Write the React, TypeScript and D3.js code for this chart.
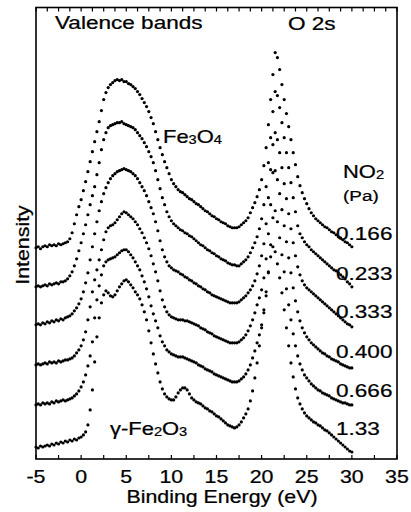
import React from "react";
import * as d3 from "d3";

// Binding energy grid (eV)
const ENERGY = [-5,-4.75,-4.5,-4.25,-4,-3.75,-3.5,-3.25,-3,-2.75,-2.5,-2.25,-2,-1.75,-1.5,-1.25,-1,-0.75,-0.5,-0.25,0,0.25,0.5,0.75,1,1.25,1.5,1.75,2,2.25,2.5,2.75,3,3.25,3.5,3.75,4,4.25,4.5,4.75,5,5.25,5.5,5.75,6,6.25,6.5,6.75,7,7.25,7.5,7.75,8,8.25,8.5,8.75,9,9.25,9.5,9.75,10,10.25,10.5,10.75,11,11.25,11.5,11.75,12,12.25,12.5,12.75,13,13.25,13.5,13.75,14,14.25,14.5,14.75,15,15.25,15.5,15.75,16,16.25,16.5,16.75,17,17.25,17.5,17.75,18,18.25,18.5,18.75,19,19.25,19.5,19.75,20,20.25,20.5,20.75,21,21.25,21.5,21.75,22,22.25,22.5,22.75,23,23.25,23.5,23.75,24,24.25,24.5,24.75,25,25.25,25.5,25.75,26,26.25,26.5,26.75,27,27.25,27.5,27.75,28,28.25,28.5,28.75,29,29.25,29.5,29.75,30];

// Intensity (arb. units, vertically offset spectra) for each NO2 pressure
const I_0166 = [211,212,210,212,213,212,214,213,214,213,215,214,215,216,217,
220,226,235,244,252,259,268,277,287,297,307,317,327,337,348,359,366,371,
374,376,378,379,378,379,377,377,
375,374,372,370,367,364,360,356,352,347,341,335,327,319,311,304,297,291,285,279,
275,272,269,267,266,264,262,260,259,257,255,254,252,250,248,247,245,243,242,240,
239,237,236,235,233,232,231,231,231,232,234,236,238,241,246,251,256,262,269,279,
293,311,334,359,384,406,401,389,374,359,345,332,319,306,294,282,273,266,260,255,
250,246,243,240,238,236,234,232,231,229,227,226,224,222,221,219,217,216,214,212];

const I_0233 = [172,173,172,173,174,173,175,174,175,176,175,177,177,178,180,
183,187,193,200,208,216,225,234,244,254,263,272,284,296,309,319,326,331,
333,334,335,336,336,337,335,334,
333,332,331,329,326,323,320,316,312,307,302,296,288,279,270,261,254,247,242,238,
235,233,231,229,228,226,225,223,222,220,218,216,214,213,211,209,208,206,205,203,
202,200,199,198,196,195,194,194,193,193,195,197,199,202,206,211,216,222,230,240,
254,272,296,321,347,367,363,351,336,321,306,291,276,261,247,233,225,221,217,214,
212,209,207,205,203,201,199,197,195,193,191,189,188,186,184,182,180,177,175,172];

const I_0333 = [134,135,134,136,135,137,136,138,137,139,138,140,139,141,142,
143,145,148,151,155,160,167,176,186,199,212,225,237,248,257,265,271,276,
280,283,285,287,288,289,290,289,
288,287,285,283,280,276,272,268,263,257,251,245,237,228,218,209,202,197,193,191,
189,188,187,185,184,182,181,179,178,176,175,173,172,170,169,167,166,164,163,162,
161,160,159,158,157,156,156,156,156,157,159,161,163,166,169,173,178,185,193,203,
215,235,261,289,314,326,319,306,291,275,260,245,230,216,203,192,184,178,174,171,
169,167,165,163,161,159,157,155,153,151,149,147,145,143,141,139,137,135,134,132];

const I_0400 = [94,95,94,95,96,95,97,96,97,96,98,97,98,99,99,
100,101,103,106,109,113,119,127,139,152,167,179,189,199,209,219,227,231,
233,234,236,239,242,245,247,246,
244,242,240,237,234,230,226,221,216,210,203,195,187,178,168,159,152,147,144,142,
141,140,139,139,139,138,138,137,136,135,134,133,131,130,129,127,126,125,123,122,
121,120,119,118,117,116,116,116,116,117,119,121,124,128,133,139,146,154,161,169,
181,200,225,254,286,288,279,265,249,233,217,201,186,171,158,147,138,131,126,122,
119,116,114,112,110,108,106,105,103,102,100,99,98,97,95,94,93,92,91,91];

const I_0666 = [54,55,54,56,55,56,55,57,56,58,57,58,59,58,59,
60,61,63,65,68,72,77,84,93,103,117,141,159,173,184,193,197,199,
200,201,202,204,206,208,209,209,
207,204,201,197,193,189,183,177,170,162,153,145,138,131,123,117,113,109,107,105,
104,103,102,102,102,101,100,99,98,97,96,94,93,92,90,89,88,87,85,84,
83,82,81,80,79,78,77,77,77,78,80,82,85,89,94,101,108,116,124,134,
146,163,187,214,241,248,237,221,204,187,170,154,139,125,113,103,95,89,84,81,
78,75,73,71,69,68,66,65,64,63,61,60,59,58,57,56,56,55,54,54];

const I_133 = [12,11,13,12,13,14,13,15,14,16,15,17,16,18,17,
19,18,20,19,21,22,24,27,34,49,69,97,122,141,156,164,168,166,
163,162,164,168,172,175,178,179,
177,174,171,167,164,160,154,147,139,128,116,105,95,86,77,70,65,62,60,59,
59,62,66,69,71,71,69,65,61,59,57,56,55,53,51,50,48,47,45,43,
42,40,38,36,34,33,32,31,32,34,37,41,45,50,58,68,81,96,113,131,
149,167,186,202,212,207,195,181,166,149,131,113,96,82,70,61,55,50,46,43,
41,39,37,36,34,33,31,29,28,26,24,22,20,18,16,14,12,10,8,7];

const SERIES = [I_0166, I_0233, I_0333, I_0400, I_0666, I_133];
const PRESSURE_LABELS = ["0.166", "0.233", "0.333", "0.400", "0.666", "1.33"];
const X_TICKS = [-5, 0, 5, 10, 15, 20, 25, 30, 35];
const X_MINOR_BOTTOM = [-2.5, 2.5, 7.5, 12.5, 17.5, 22.5, 27.5, 32.5];
const X_MINOR_TOP = [-3.75, -2.5, -1.25, 1.25, 2.5, 3.75, 6.25, 7.5, 8.75, 11.25, 12.5, 13.75, 16.25, 17.5, 18.75, 21.25, 22.5, 23.75, 26.25, 27.5, 28.75, 31.25, 32.5, 33.75];

const FONT = "'Liberation Sans', Arial, Helvetica, sans-serif";
const SX = 1.22;

function T(props: any) {
  const { x, y, size, anchor, rotate, children } = props;
  const tr = `translate(${x},${y})` + (rotate ? ` rotate(${rotate})` : "") + ` scale(${SX},1)`;
  return (
    <text transform={tr} fontSize={size} textAnchor={anchor || "start"} fontFamily={FONT} fill="#000"
      stroke="#000" strokeWidth={0.25}>
      {children}
    </text>
  );
}

export default function App() {
  const W = 411, H = 512;
  const left = 36, right = 397, top = 7.5, bottom = 459;
  const x = d3.scaleLinear().domain([-5, 35]).range([left, right]);
  const y = d3.scaleLinear().domain([0, 451]).range([bottom, top]);

  const labelY = [240, 280, 318, 358, 397, 435];

  return (
    <svg width={W} height={H} style={{ position: "absolute", left: 0, top: 0, background: "#fff" }}>
      <rect x={0} y={0} width={W} height={H} fill="#fff" />
      {/* spectra */}
      {SERIES.map((vals, si) => (
        <g key={si}>
          {vals.map((v, i) =>
            i < ENERGY.length ? (
              <circle key={i} cx={x(ENERGY[i])} cy={y(v)} r={1.6} fill="#000" />
            ) : null
          )}
        </g>
      ))}
      {/* frame */}
      <rect x={left} y={top} width={right - left} height={bottom - top} fill="none" stroke="#000" strokeWidth={1.6} />
      {/* bottom ticks */}
      {X_TICKS.concat(X_MINOR_BOTTOM).map((t, i) => (
        <line key={"b" + i} x1={x(t)} x2={x(t)} y1={bottom} y2={bottom - 4} stroke="#000" strokeWidth={1.2} />
      ))}
      {/* top ticks */}
      {X_TICKS.concat(X_MINOR_TOP).map((t, i) => (
        <line key={"t" + i} x1={x(t)} x2={x(t)} y1={top} y2={top + 4} stroke="#000" strokeWidth={1.2} />
      ))}
      {/* tick labels */}
      {X_TICKS.map((t) => (
        <T key={"l" + t} x={x(t)} y={483} size={17.5} anchor="middle">{String(t)}</T>
      ))}
      <T x={222} y={503} size={17.5} anchor="middle">Binding Energy (eV)</T>
      <T x={29} y={245} size={17.5} anchor="middle" rotate={-90}>Intensity</T>

      <T x={55} y={29} size={18.5}>Valence bands</T>
      <T x={288} y={30} size={18.5}>O 2s</T>
      <T x={163} y={143} size={18}>
        Fe<tspan fontSize={12} dy={1}>3</tspan><tspan dy={-1}>O</tspan><tspan fontSize={12} dy={1}>4</tspan>
      </T>
      <T x={110} y={435} size={18}>
        γ-Fe<tspan fontSize={12} dy={1}>2</tspan><tspan dy={-1}>O</tspan><tspan fontSize={12} dy={1}>3</tspan>
      </T>
      <T x={343} y={178} size={18}>
        NO<tspan fontSize={12} dy={1}>2</tspan>
      </T>
      <T x={343} y={201} size={15.5}>(Pa)</T>
      {PRESSURE_LABELS.map((p, i) => (
        <T key={p} x={336} y={labelY[i]} size={18.5}>{p}</T>
      ))}
    </svg>
  );
}
